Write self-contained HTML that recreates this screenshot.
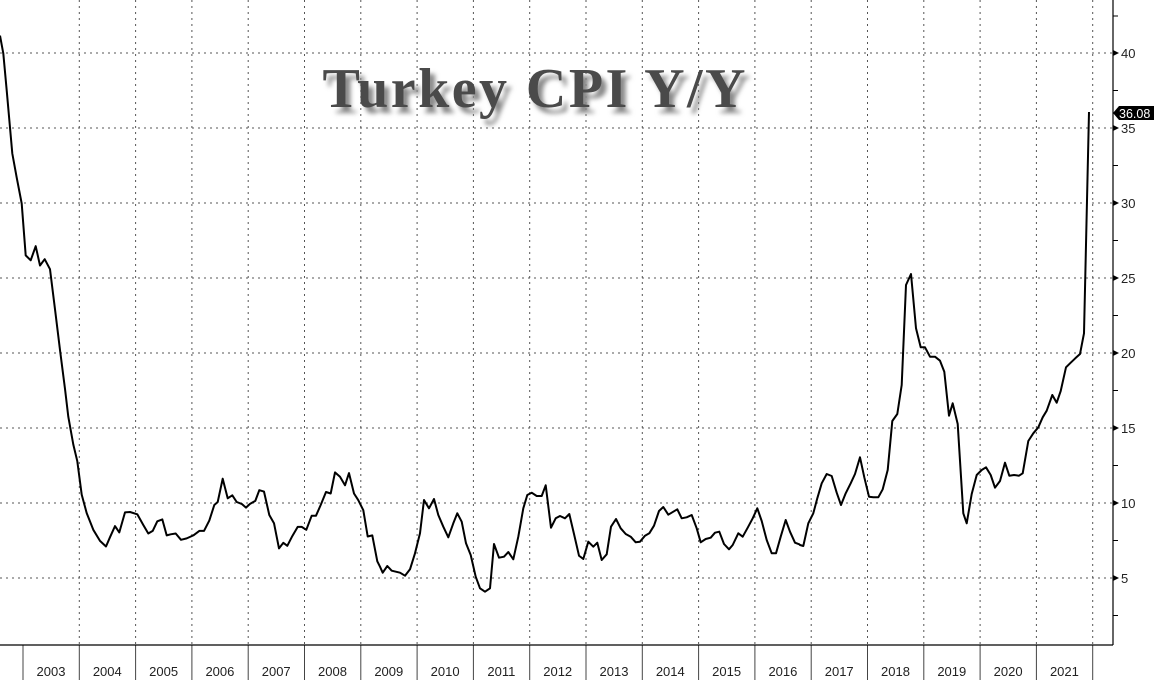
<!DOCTYPE html>
<html><head><meta charset="utf-8"><style>
html,body{margin:0;padding:0;background:#fff;}
svg{display:block;}
</style></head><body>
<svg id="s" width="1154" height="680" xmlns="http://www.w3.org/2000/svg" font-family="Liberation Sans, sans-serif">
<defs><filter id="bl" x="-10%" y="-30%" width="120%" height="160%"><feGaussianBlur stdDeviation="2.5"/></filter></defs>
<rect width="1154" height="680" fill="#fff"/>
<g id="grid" stroke="#555" stroke-width="1" stroke-dasharray="2,4"></g>
<g id="cats" stroke="#444" stroke-width="1"></g>
<line x1="0" y1="645" x2="1113" y2="645" stroke="#000" stroke-width="1.2"/>
<line x1="1113" y1="0" x2="1113" y2="645" stroke="#000" stroke-width="1.2"/>
<g id="yl" font-size="13" fill="#222"></g>
<g id="xl" font-size="13" fill="#222" text-anchor="middle"></g>
<text x="534" y="107" font-family="Liberation Serif, serif" font-weight="bold" font-size="56" fill="#888" text-anchor="middle" textLength="423" filter="url(#bl)" transform="translate(5,6)">Turkey CPI Y/Y</text>
<text x="534" y="107" font-family="Liberation Serif, serif" font-weight="bold" font-size="56" fill="#4a4a4a" text-anchor="middle" textLength="423">Turkey CPI Y/Y</text>
<polyline id="ln" fill="none" stroke="#000" stroke-width="2" stroke-linejoin="round"/>
<polygon points="1113,113 1119,106 1154,106 1154,120 1119,120" fill="#000"/>
<text x="1119" y="118" font-size="12.5" fill="#fff">36.08</text>
</svg>
<script>
var NS="http://www.w3.org/2000/svg";
function el(p,t,a,txt){var e=document.createElementNS(NS,t);for(var k in a)e.setAttribute(k,a[k]);if(txt)e.textContent=txt;document.getElementById(p).appendChild(e);}
for(var v=5;v<=40;v+=5){var y=653-15*v;el("grid","line",{x1:0,y1:y,x2:1113,y2:y});
el("yl","text",{x:1121,y:y+5},String(v));
el("yl","polygon",{points:(1113)+","+(y-3)+" 1119,"+y+" 1113,"+(y+3),fill:"#000"});
var ym=y+37.5;if(ym<645)el("cats","line",{x1:1113,y1:ym,x2:1118,y2:ym,stroke:"#000"});}
el("cats","line",{x1:1113,y1:16,x2:1118,y2:16,stroke:"#000"});
for(var k=0;k<=19;k++){var x=23+56.3*k;
if(k>0)el("grid","line",{x1:x,y1:0,x2:x,y2:645});
el("cats","line",{x1:x,y1:645,x2:x,y2:680});
if(k<19)el("xl","text",{x:x+28,y:676},String(2003+k));}
var z4=[[0,42],[10,90],[20,190],[37,360],[50,425],[65,495],[77,635],[92,648],[107,610],[120,662],[134,645],[150,672],[165,780],[180,890],[195,995],[205,1070],[220,1145],[232,1190],[245,1280],[260,1330],[280,1375],[300,1405],[318,1420],[330,1395],[345,1365],[358,1382],[375,1328],[390,1327],[412,1333],[430,1362],[445,1385],[458,1378],[472,1352],[487,1347],[500,1390],[512,1387],[527,1385],[543,1402],[560,1398],[580,1390],[598,1378],[612,1378],[628,1350],[643,1308],[653,1300],[668,1237],[683,1290],[697,1282],[710,1300],[725,1305],[738,1315],[750,1305],[766,1297],[778,1268],[792,1272],[808,1335],[822,1357],[837,1425],[850,1410],[862,1418],[877,1392],[893,1367],[905,1367],[919,1375],[935,1337],[948,1337],[962,1308],[978,1273],[992,1277],[1005,1220],[1020,1232],[1035,1255],[1047,1222],[1062,1277],[1075,1295],[1090,1322],[1103,1393],[1117,1390],[1132,1460]];
var z5=[[0,560],[8,578],[22,558],[35,572],[60,578],[75,587],[90,568],[105,520],[120,460],[132,360],[147,385],[162,357],[175,405],[190,440],[205,472],[220,430],[232,400],[245,425],[258,490],[272,525],[287,590],[300,625],[315,635],[330,625],[342,492],[357,533],[372,530],[385,516],[400,538],[415,470],[430,385],[442,345],[455,338],[470,348],[485,348],[497,316],[513,443],[527,415],[540,408],[555,415],[568,402],[582,462],[597,527],[610,537],[625,485],[640,500],[652,488],[665,540],[680,523],[693,440],[708,417],[722,445],[737,462],[752,470],[767,487],[780,485],[795,467],[808,460],[822,437],[837,393],[850,381],[865,404],[880,395],[892,388],[905,415],[920,412],[935,405],[950,445],[962,487],[977,477],[992,473],[1005,458],[1018,455],[1032,492],[1047,508],[1058,495],[1075,460],[1088,470],[1103,443],[1118,415],[1132,385],[1145,423],[1160,480],[1175,520],[1188,520],[1202,470],[1217,420],[1230,455],[1245,488],[1258,493]];
var z6=[[0,915],[10,918],[25,850],[40,820],[52,775],[65,730],[80,702],[95,708],[110,758],[123,795],[137,760],[152,730],[165,702],[180,652],[193,712],[207,770],[220,772],[235,772],[248,748],[263,690],[277,543],[292,522],[305,435],[318,135],[333,102],[348,265],[362,322],[375,322],[390,350],[405,350],[420,362],[433,395],[447,527],[458,490],[473,552],[490,820],[500,850],[515,762],[530,705],[545,690],[558,682],[572,705],[585,743],[600,723],[615,668],[628,707],[642,705],[657,707],[668,700],[685,603],[700,580],[715,562],[728,532],[740,512],[757,465],[770,488],[782,453],[798,382],[812,368],[826,355],[840,342],[852,280]];
var pts=[];
z4.forEach(function(p){var x=p[0]/3,y=p[1]/2.697+20;if(x<380)pts.push([x,y]);});
z5.forEach(function(p){var x=p[0]/3+380,y=p[1]/3+380;if(x>=380&&x<800)pts.push([x,y]);});
z6.forEach(function(p){var x=p[0]/3+800,y=p[1]/3+240;if(x>=800)pts.push([x,y]);});
pts.push([1089,112]);
document.getElementById("ln").setAttribute("points",pts.map(function(p){return p[0].toFixed(1)+","+p[1].toFixed(1)}).join(" "));
</script>
</body></html>
